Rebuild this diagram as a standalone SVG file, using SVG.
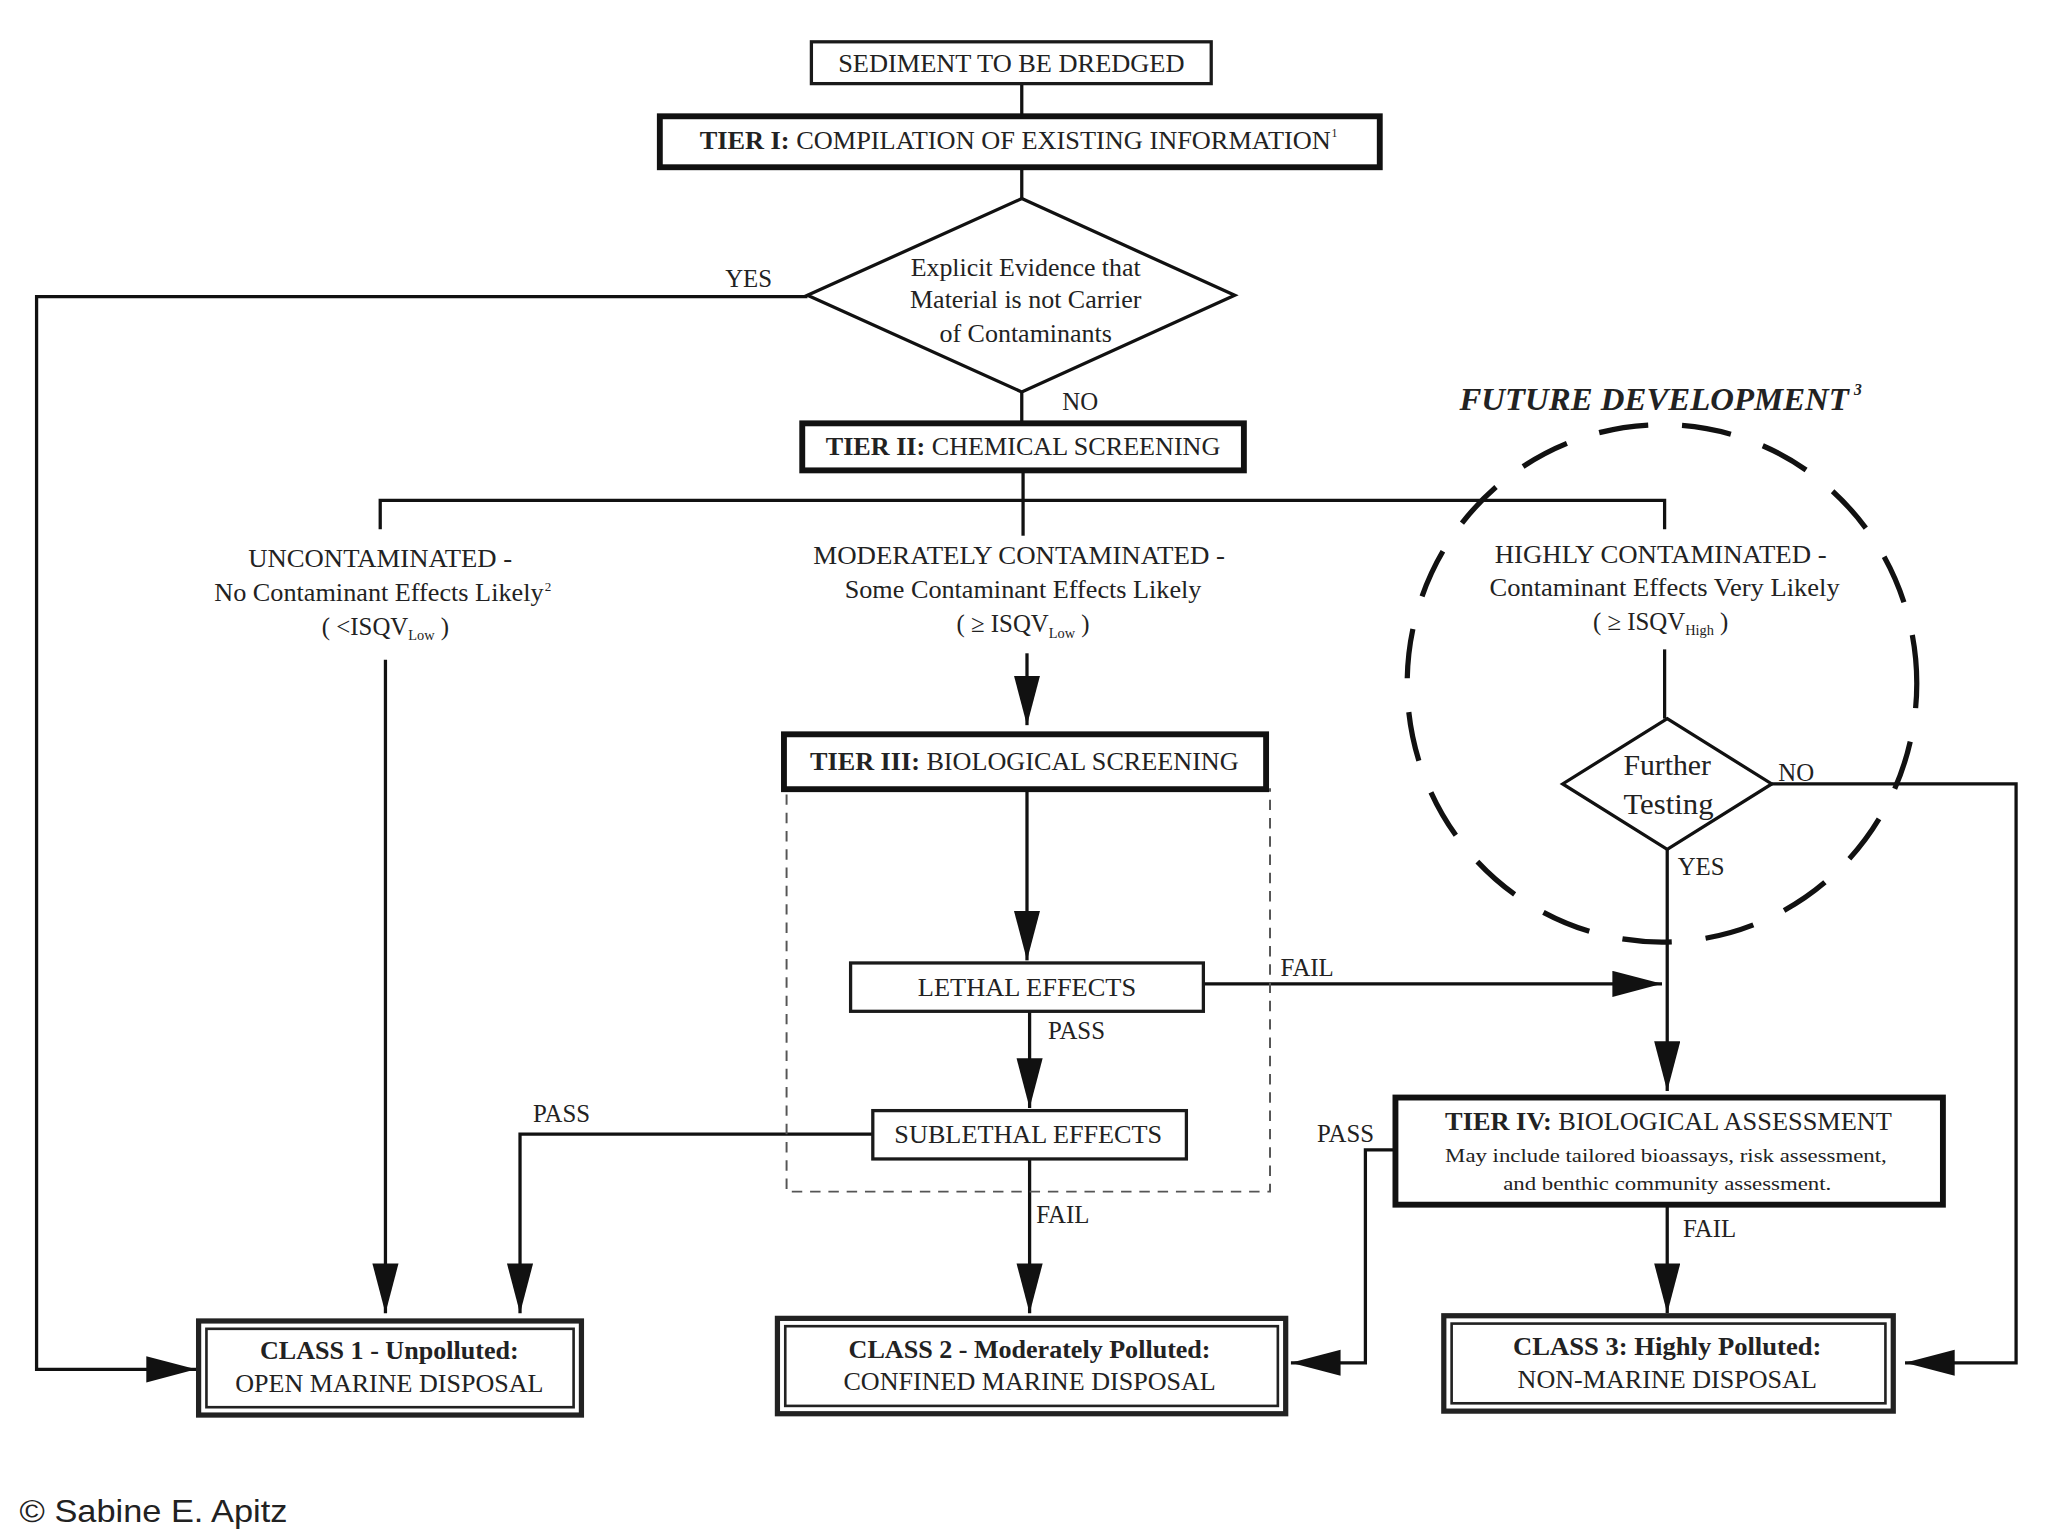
<svg xmlns="http://www.w3.org/2000/svg" width="2048" height="1536" viewBox="0 0 2048 1536">
<defs>
<marker id="ah" markerUnits="userSpaceOnUse" markerWidth="40" markerHeight="22" refX="38" refY="10" orient="auto">
<path d="M0,0 L38,10 L0,20 Z" fill="#111"/>
</marker>
<style>
text{font-family:"Liberation Serif","Times New Roman",serif;fill:#222;}
.t{font-size:19px;text-anchor:middle;}
.s{font-size:15px;text-anchor:middle;}
.lbl{font-size:19px;}
.b{font-weight:bold;}
.box{fill:#fff;stroke:#1a1a1a;stroke-width:2.5;}
.tier{fill:#fff;stroke:#111;stroke-width:4.5;}
.cls{fill:#fff;stroke:#222;stroke-width:4;}
.clsin{fill:none;stroke:#222;stroke-width:2;}
.dia{fill:#fff;stroke:#111;stroke-width:2.5;}
.ln{fill:none;stroke:#111;stroke-width:2.5;}
.arr{fill:none;stroke:#111;stroke-width:2.5;marker-end:url(#ah);}
</style>
</defs>
<rect width="2048" height="1536" fill="#fff"/>
<g transform="scale(1.3066)">
<g id="connectors">
<path class="ln" d="M782,64 V90"/>
<path class="ln" d="M782,128 V152"/>
<path class="arr" d="M618,227 H28 V1048 H150"/>
<path class="ln" d="M782,300 V325"/>
<path class="ln" d="M783,360 V410"/>
<path class="ln" d="M291,405 V383 H1274 V405"/>
<path class="arr" d="M295,505 V1005"/>
<path class="arr" d="M786,500 V555"/>
<path class="arr" d="M786,604 V735"/>
<path class="arr" d="M921,753 H1272"/>
<path class="arr" d="M788,774 V848"/>
<path class="arr" d="M668,868 H398 V1005"/>
<path class="arr" d="M788,887 V1005"/>
<path class="ln" d="M1274,497 V550"/>
<path class="arr" d="M1356,600 H1543 V1043 H1458"/>
<path class="arr" d="M1276,650 V835"/>
<path class="arr" d="M1068,880 H1045 V1043 H988"/>
<path class="arr" d="M1276,922 V1005"/>
</g>
<g id="future-development">
<ellipse cx="1272" cy="523" rx="195" ry="198" fill="none" stroke="#111" stroke-width="4" stroke-dasharray="38 26" stroke-dashoffset="19"/>
<text x="1117" y="314" font-size="24" font-weight="bold" font-style="italic" textLength="298" lengthAdjust="spacingAndGlyphs">FUTURE DEVELOPMENT</text>
<text x="1419" y="302" font-size="12" font-weight="bold" font-style="italic">3</text>
</g>
<g id="biological-screening-frame">
<rect x="602" y="604" width="370" height="308" fill="none" stroke="#555" stroke-width="1.5" stroke-dasharray="8 6"/>
</g>
<g id="sediment">
<rect class="box" x="621" y="32" width="306" height="32"/>
<text class="t" x="774" y="55" textLength="265" lengthAdjust="spacingAndGlyphs">SEDIMENT TO BE DREDGED</text>
</g>
<g id="tier1">
<rect class="tier" x="505" y="89" width="551" height="39"/>
<text class="t" x="777" y="114" textLength="483" lengthAdjust="spacingAndGlyphs"><tspan class="b">TIER I:</tspan> COMPILATION OF EXISTING INFORMATION</text>
<text x="1019" y="105" font-size="9">1</text>
</g>
<g id="evidence-decision">
<polygon class="dia" points="782,152 945,226 782,300 618,226"/>
<text class="t" x="785" y="211" textLength="176" lengthAdjust="spacingAndGlyphs">Explicit Evidence that</text>
<text class="t" x="785" y="236" textLength="177" lengthAdjust="spacingAndGlyphs">Material is not Carrier</text>
<text class="t" x="785" y="262" textLength="132" lengthAdjust="spacingAndGlyphs">of Contaminants</text>
</g>
<g id="tier2">
<rect class="tier" x="614" y="324" width="338" height="36"/>
<text class="t" x="783" y="348" textLength="302" lengthAdjust="spacingAndGlyphs"><tspan class="b">TIER II:</tspan> CHEMICAL SCREENING</text>
</g>
<g id="uncontaminated">
<text class="t" x="291" y="434" textLength="202" lengthAdjust="spacingAndGlyphs">UNCONTAMINATED -</text>
<text class="t" x="290" y="460" textLength="252" lengthAdjust="spacingAndGlyphs">No Contaminant Effects Likely</text>
<text x="417" y="452" font-size="10">2</text>
<text class="t" x="295" y="486">( &lt;ISQV<tspan font-size="11" dy="4">Low</tspan><tspan dy="-4"> )</tspan></text>
</g>
<g id="moderately">
<text class="t" x="780" y="432" textLength="315" lengthAdjust="spacingAndGlyphs">MODERATELY CONTAMINATED -</text>
<text class="t" x="783" y="458" textLength="273" lengthAdjust="spacingAndGlyphs">Some Contaminant Effects Likely</text>
<text class="t" x="783" y="484">( ≥  ISQV<tspan font-size="11" dy="4">Low</tspan><tspan dy="-4"> )</tspan></text>
</g>
<g id="highly">
<text class="t" x="1271" y="431" textLength="254" lengthAdjust="spacingAndGlyphs">HIGHLY CONTAMINATED -</text>
<text class="t" x="1274" y="456" textLength="268" lengthAdjust="spacingAndGlyphs">Contaminant Effects Very Likely</text>
<text class="t" x="1271" y="482">( ≥  ISQV<tspan font-size="11" dy="4">High</tspan><tspan dy="-4"> )</tspan></text>
</g>
<g id="tier3">
<rect class="tier" x="600" y="562" width="369" height="42"/>
<text class="t" x="784" y="589" textLength="328" lengthAdjust="spacingAndGlyphs"><tspan class="b">TIER III:</tspan> BIOLOGICAL SCREENING</text>
</g>
<g id="lethal">
<rect class="box" x="651" y="737" width="270" height="37"/>
<text class="t" x="786" y="762" textLength="167" lengthAdjust="spacingAndGlyphs">LETHAL EFFECTS</text>
</g>
<g id="sublethal">
<rect class="box" x="668" y="850" width="240" height="37"/>
<text class="t" x="787" y="875" textLength="205" lengthAdjust="spacingAndGlyphs">SUBLETHAL EFFECTS</text>
</g>
<g id="further-testing">
<polygon class="dia" points="1276,550 1356,600 1276,650 1196,600"/>
<text x="1276" y="593" font-size="22" text-anchor="middle" textLength="67" lengthAdjust="spacingAndGlyphs">Further</text>
<text x="1277" y="623" font-size="22" text-anchor="middle" textLength="69" lengthAdjust="spacingAndGlyphs">Testing</text>
</g>
<g id="tier4">
<rect class="tier" x="1068" y="840" width="419" height="82"/>
<text class="t" x="1277" y="865" textLength="342" lengthAdjust="spacingAndGlyphs"><tspan class="b">TIER IV:</tspan> BIOLOGICAL ASSESSMENT</text>
<text class="s" x="1275" y="889" textLength="338" lengthAdjust="spacingAndGlyphs">May include tailored bioassays, risk assessment,</text>
<text class="s" x="1276" y="911" textLength="251" lengthAdjust="spacingAndGlyphs">and benthic community assessment.</text>
</g>
<g id="class1">
<rect class="cls" x="152" y="1011" width="293" height="72"/>
<rect class="clsin" x="158" y="1017" width="281" height="60"/>
<text class="t b" x="298" y="1040" textLength="198" lengthAdjust="spacingAndGlyphs">CLASS 1 - Unpolluted:</text>
<text class="t" x="298" y="1065" textLength="236" lengthAdjust="spacingAndGlyphs">OPEN MARINE DISPOSAL</text>
</g>
<g id="class2">
<rect class="cls" x="595" y="1009" width="389" height="73"/>
<rect class="clsin" x="601" y="1015" width="377" height="61"/>
<text class="t b" x="788" y="1039" textLength="277" lengthAdjust="spacingAndGlyphs">CLASS 2 - Moderately Polluted:</text>
<text class="t" x="788" y="1064" textLength="285" lengthAdjust="spacingAndGlyphs">CONFINED MARINE DISPOSAL</text>
</g>
<g id="class3">
<rect class="cls" x="1105" y="1007" width="344" height="73"/>
<rect class="clsin" x="1111" y="1013" width="332" height="61"/>
<text class="t b" x="1276" y="1037" textLength="236" lengthAdjust="spacingAndGlyphs">CLASS 3:  Highly Polluted:</text>
<text class="t" x="1276" y="1062" textLength="229" lengthAdjust="spacingAndGlyphs">NON-MARINE DISPOSAL</text>
</g>
<g id="labels">
<text class="lbl" x="555" y="220">YES</text>
<text class="lbl" x="813" y="314">NO</text>
<text class="lbl" x="980" y="747">FAIL</text>
<text class="lbl" x="802" y="795">PASS</text>
<text class="lbl" x="408" y="859">PASS</text>
<text class="lbl" x="793" y="936">FAIL</text>
<text class="lbl" x="1361" y="598">NO</text>
<text class="lbl" x="1284" y="670">YES</text>
<text class="lbl" x="1008" y="874">PASS</text>
<text class="lbl" x="1288" y="947">FAIL</text>
</g>
<text x="15" y="1165" font-size="24" fill="#111" textLength="205" lengthAdjust="spacingAndGlyphs" style="font-family:'Liberation Sans',Arial,sans-serif">© Sabine E. Apitz</text>
</g>
</svg>
